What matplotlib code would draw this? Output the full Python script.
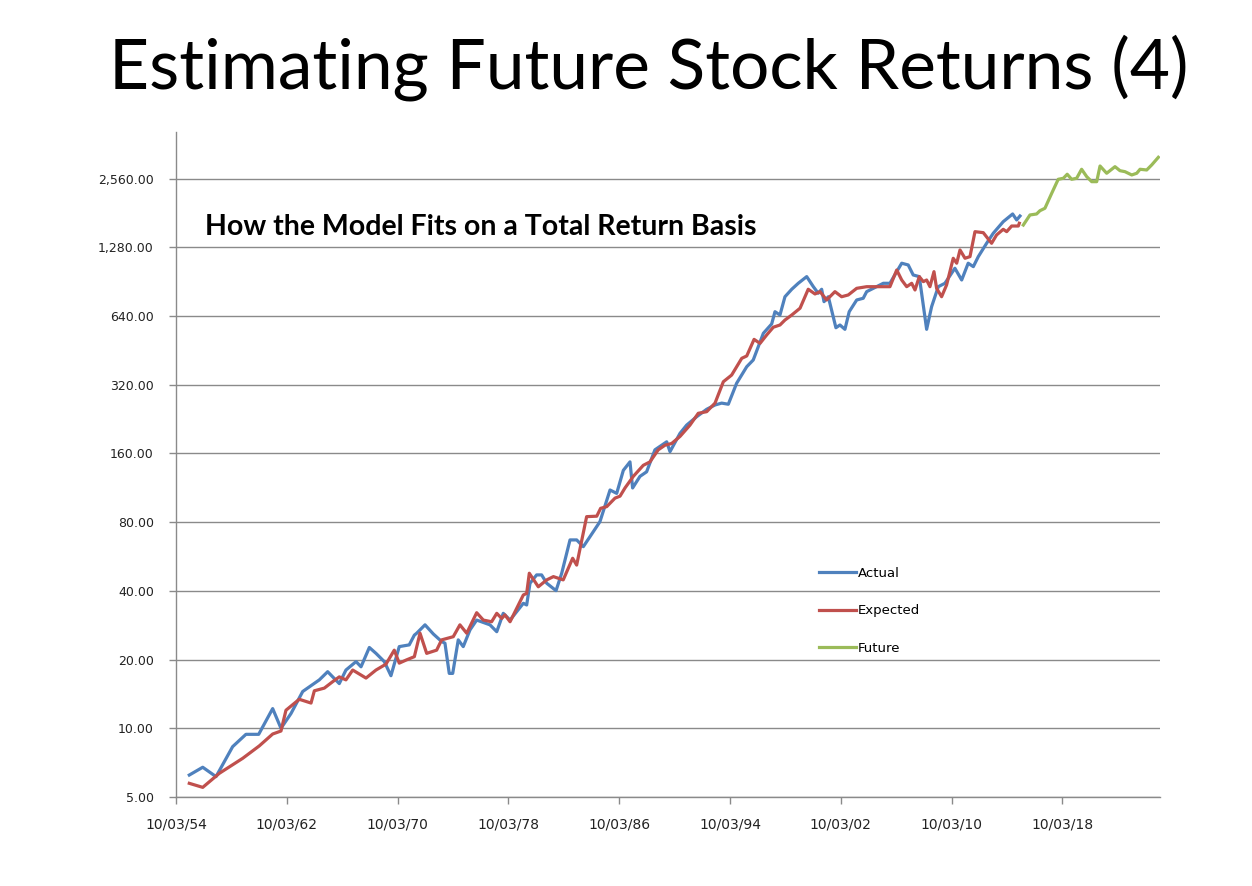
import matplotlib
matplotlib.use('Agg')
import matplotlib.pyplot as plt
from matplotlib.ticker import FuncFormatter, FixedLocator, NullLocator
import numpy as np

# values (year as decimal, index level)
actual_year = [1955.71, 1956.68, 1957.64, 1958.84, 1959.80, 1960.72, 1961.73, 1962.33, 1963.05, 1963.90,
               1965.10, 1965.70, 1966.54, 1967.02, 1967.75, 1968.11, 1968.71, 1969.19, 1969.79, 1970.27,
               1970.87, 1971.59, 1971.96, 1972.13, 1972.73, 1973.33, 1973.93, 1974.17, 1974.48, 1974.73,
               1975.13, 1975.49, 1975.98, 1976.46, 1977.42, 1977.91, 1978.38, 1978.87, 1979.83, 1980.07,
               1980.31, 1980.79, 1981.15, 1981.52, 1982.19, 1982.60, 1983.20, 1983.68, 1984.16, 1984.64,
               1985.36, 1986.09, 1986.57, 1987.05, 1987.53, 1987.72, 1988.25, 1988.73, 1989.33, 1990.18,
               1990.42, 1991.14, 1991.62, 1992.35, 1993.07, 1993.67, 1994.15, 1994.63, 1995.23, 1995.96,
               1996.43, 1997.16, 1997.76, 1998.00, 1998.36, 1998.72, 1999.21, 1999.68, 2000.29, 2000.77,
               2001.12, 2001.37, 2001.54, 2001.85, 2002.40, 2002.69, 2003.05, 2003.36, 2003.90, 2004.37,
               2004.62, 2005.10, 2005.82, 2006.30, 2006.79, 2007.15, 2007.62, 2007.98, 2008.42, 2008.95,
               2009.31, 2009.79, 2010.27, 2010.99, 2011.48, 2011.95, 2012.32, 2012.68, 2013.28, 2013.76,
               2014.48, 2015.16, 2015.45, 2015.69]
actual_val = [6.24, 6.75, 6.14, 8.31, 9.41, 9.41, 12.2, 10.0, 11.6, 14.5,
              16.3, 17.7, 15.7, 18.0, 19.6, 18.6, 22.6, 21.3, 19.6, 17.0,
              22.8, 23.2, 25.6, 26.1, 28.4, 25.9, 24.0, 23.6, 17.4, 17.4,
              24.4, 22.8, 27.0, 29.8, 28.4, 26.5, 31.9, 29.8, 35.3, 34.7,
              43.2, 47.0, 47.0, 43.2, 40.1, 47.8, 66.9, 66.9, 62.5, 69.1,
              80.4, 110.7, 107, 135, 147, 113, 127, 133, 166, 180,
              163, 196, 213, 232, 250, 261, 266, 263, 325, 384,
              411, 538, 591, 669, 647, 778, 839, 891, 953, 861,
              806, 839, 740, 778, 569, 585, 560, 669, 753, 766,
              819, 847, 891, 891, 1002, 1091, 1072, 969, 953, 560,
              704, 861, 891, 1037, 921, 1091, 1054, 1166, 1334, 1476,
              1659, 1793, 1688, 1757]

expected_year = [1955.71, 1956.68, 1957.88, 1959.57, 1960.76, 1961.73, 1962.33, 1962.69, 1963.65, 1964.50,
                 1964.74, 1965.46, 1966.06, 1966.54, 1967.02, 1967.51, 1968.47, 1969.19, 1969.91, 1970.51,
                 1970.87, 1971.36, 1971.96, 1972.37, 1972.85, 1973.57, 1973.93, 1974.77, 1975.25, 1975.74,
                 1976.46, 1976.94, 1977.54, 1977.91, 1978.27, 1978.50, 1978.87, 1979.83, 1980.07, 1980.26,
                 1980.91, 1981.52, 1982.00, 1982.71, 1983.39, 1983.68, 1984.40, 1985.13, 1985.41, 1985.85,
                 1986.45, 1986.81, 1987.17, 1987.77, 1988.49, 1988.97, 1989.57, 1990.06, 1990.54, 1991.14,
                 1991.86, 1992.46, 1993.07, 1993.67, 1994.27, 1994.87, 1995.60, 1995.96, 1996.49, 1996.92,
                 1997.40, 1997.88, 1998.36, 1998.72, 1999.21, 1999.81, 2000.40, 2000.89, 2001.25, 2001.73,
                 2002.33, 2002.81, 2003.29, 2003.90, 2004.62, 2005.34, 2006.30, 2006.79, 2007.15, 2007.51,
                 2007.87, 2008.11, 2008.42, 2008.71, 2008.95, 2009.19, 2009.48, 2009.67, 2010.03, 2010.39,
                 2010.87, 2011.12, 2011.36, 2011.72, 2012.08, 2012.44, 2013.04, 2013.64, 2014.00, 2014.48,
                 2014.73, 2015.09, 2015.57, 2015.64]
expected_val = [5.74, 5.51, 6.35, 7.39, 8.37, 9.44, 9.73, 12.0, 13.4, 12.9,
                14.6, 15.0, 16.0, 16.8, 16.3, 18.0, 16.6, 18.0, 19.1, 22.0,
                19.3, 19.9, 20.6, 26.1, 21.3, 22.0, 24.4, 25.2, 28.4, 26.1,
                32.1, 29.8, 29.3, 31.9, 30.3, 31.4, 29.3, 38.4, 39.0, 47.8,
                41.7, 44.7, 46.2, 44.7, 55.6, 51.9, 84.6, 85.0, 92.0, 93.6,
                102, 104, 113, 127, 142, 147, 166, 174, 177, 190,
                213, 240, 244, 266, 330, 353, 418, 428, 506, 486,
                529, 572, 585, 615, 647, 693, 839, 800, 819, 753,
                819, 778, 792, 847, 861, 861, 861, 1019, 921, 861,
                891, 833, 953, 906, 921, 861, 1002, 847, 778, 876,
                1147, 1091, 1247, 1147, 1166, 1500, 1485, 1334, 1451, 1536,
                1500, 1588, 1588, 1633]

future_year = [2015.93, 2016.41, 2016.89, 2017.13, 2017.49, 2017.98, 2018.45, 2018.82, 2019.10, 2019.42,
               2019.78, 2020.14, 2020.51, 2020.87, 2021.23, 2021.47, 2021.95, 2022.55, 2022.91, 2023.27,
               2023.76, 2024.12, 2024.36, 2024.84, 2025.20, 2025.68]
future_val = [1604, 1775, 1793, 1853, 1899, 2209, 2544, 2570, 2677, 2544,
              2570, 2815, 2612, 2484, 2484, 2910, 2704, 2890, 2775, 2748,
              2658, 2704, 2815, 2795, 2940, 3176]

y_ticks = [5, 10, 20, 40, 80, 160, 320, 640, 1280, 2560]
x_tick_labels = ['10/03/54', '10/03/62', '10/03/70', '10/03/78', '10/03/86',
                 '10/03/94', '10/03/02', '10/03/10', '10/03/18']
x_tick_pos = [1954.75 + 8 * i for i in range(len(x_tick_labels))]

fig = plt.figure(figsize=(12.52, 8.86), dpi=100)
ax = fig.add_axes([176 / 1252, 1 - 797 / 886, (1160 - 176) / 1252, (797 - 132) / 886])

ax.plot(actual_year, actual_val, color='#4F81BD', lw=2.3, label='Actual', solid_joinstyle='round')
ax.plot(expected_year, expected_val, color='#C0504D', lw=2.3, label='Expected', solid_joinstyle='round')
ax.plot(future_year, future_val, color='#9BBB59', lw=2.3, label='Future', solid_joinstyle='round')

ax.set_yscale('log', base=2)
ax.set_ylim(5, 4100)
ax.set_xlim(1954.75, 2025.8)
ax.yaxis.set_major_locator(FixedLocator(y_ticks))
ax.yaxis.set_minor_locator(NullLocator())
ax.yaxis.set_major_formatter(FuncFormatter(lambda v, p: '{:,.2f}'.format(v)))
ax.set_xticks(x_tick_pos)
ax.set_xticklabels(x_tick_labels)

ax.grid(axis='y', color='#8a8a8a', lw=1.0)
ax.set_axisbelow(True)
for s in ['top', 'right']:
    ax.spines[s].set_visible(False)
for s in ['left', 'bottom']:
    ax.spines[s].set_color('#8a8a8a')
    ax.spines[s].set_linewidth(1.0)
ax.tick_params(axis='y', length=5, width=1, color='#8a8a8a', pad=11, labelsize=9, labelcolor='#222222')
ax.tick_params(axis='x', length=5, width=1, color='#8a8a8a', pad=10, labelsize=10, labelcolor='#222222')

leg = ax.legend(loc='center left', bbox_to_anchor=(0.6535, 0.2797), frameon=False,
                borderaxespad=0, borderpad=0, handlelength=2.8, handletextpad=0.15,
                labelspacing=1.85, fontsize=9.5)

fig.text(0.518, 1 - 68 / 886, 'Estimating Future Stock Returns (4)', ha='center', va='center',
         fontsize=50, family='Lato', color='black')
fig.text(205 / 1252, 1 - 227 / 886, 'How the Model Fits on a Total Return Basis',
         ha='left', va='center', fontsize=20.5, family='Lato', weight='bold', color='black')

fig.savefig('out.png', dpi=100)
